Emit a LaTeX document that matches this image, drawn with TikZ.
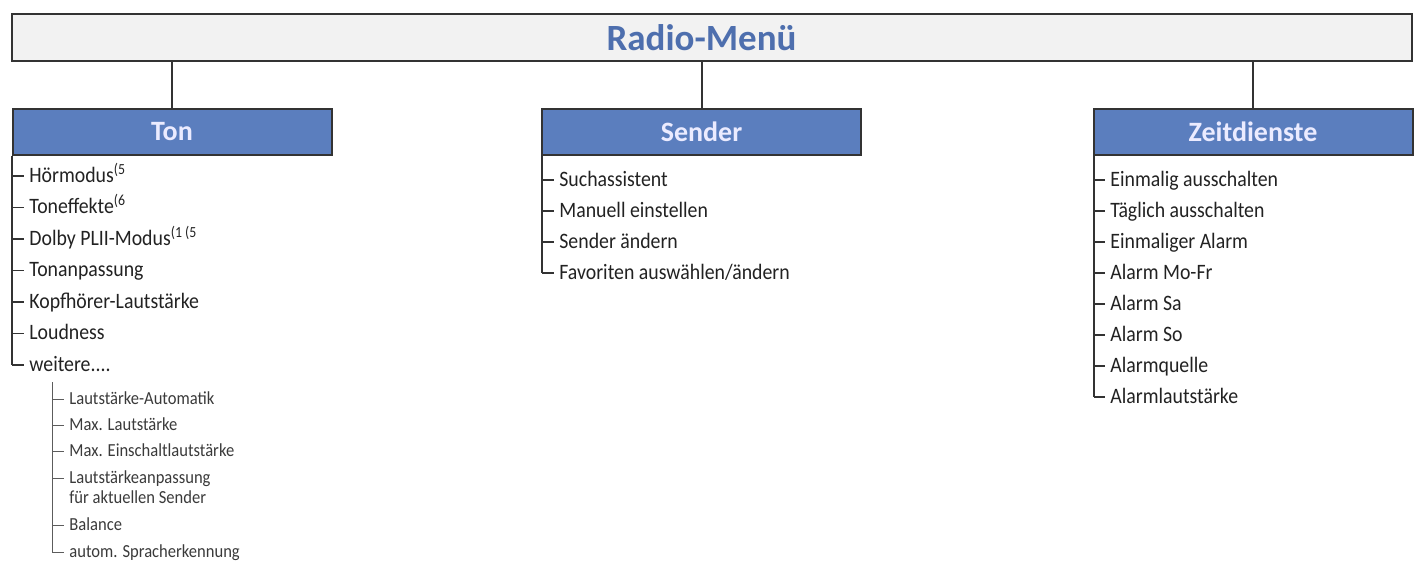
\documentclass[tikz,border=0pt]{standalone}
\usepackage{fontspec}
\setmainfont{Carlito}
\newfontfamily\itemfont[FakeStretch=0.9]{Carlito}
\usepackage{xcolor}
\definecolor{boxblue}{HTML}{5B7EBE}
\definecolor{menublue}{HTML}{4E6FAE}
\definecolor{framegray}{HTML}{333333}
\definecolor{menugray}{HTML}{F2F2F2}
\definecolor{txt}{HTML}{222222}
\definecolor{subtxt}{HTML}{3A3A3A}
\newcommand\tonmore{weitere....}
\tikzset{
  menubox/.style={draw=framegray, line width=1pt, fill=menugray, minimum width=700pt, minimum height=23.5pt, inner sep=0pt},
  groupbox/.style={draw=framegray, line width=1pt, fill=boxblue, minimum width=159.5pt, minimum height=23pt, inner sep=0pt,
    text=white!92!blue, font=\fontsize{14pt}{16pt}\bfseries\selectfont},
  link/.style={draw=framegray, line width=1pt},
  item/.style={anchor=base west, inner xsep=2.5pt, inner ysep=0pt, text=txt, font=\itemfont\fontsize{11pt}{13pt}\selectfont},
  subitem/.style={anchor=base west, inner xsep=2.5pt, inner ysep=0pt, text=subtxt, align=left, font=\itemfont\fontsize{9.2pt}{10pt}\selectfont},
  tree/.style={draw=framegray, line width=0.75pt},
  subtree/.style={draw=framegray!80, line width=0.5pt}
}
\begin{document}
\begin{tikzpicture}[x=0.5pt, y=-0.5pt]
  \useasboundingbox (0,0) rectangle (1418,568);
  % Kopf
  \node[menubox] (menu) at (712,37.5) {};
  \node[groupbox] (ton) at (172,132) {Ton};
  \node[groupbox] (sender) at (701.5,132) {Sender};
  \node[groupbox] (zeit) at (1253,132) {Zeitdienste};
  \node[text=menublue, font=\fontsize{18.5pt}{20pt}\bfseries\selectfont] (title) at (menu.center -| sender) {Radio-Menü};
  \foreach \g in {ton,sender,zeit}
    \draw[link] (\g.north) -- (\g.north |- menu.south);
  % Ton
  \foreach \t [count=\i] in {Hörmodus\textsuperscript{(5}, Toneffekte\textsuperscript{(6}, Dolby PLII-Modus\textsuperscript{(1 (5}, Tonanpassung, Kopfhörer-Lautstärke, Loudness, \tonmore}{
    \coordinate (t\i) at (12,{176+31.5*(\i-1)});
    \node[item] (ton\i) at ([shift={(12,6)}]t\i) {\t};
    \draw[tree] (t\i) -- (t\i -| ton\i.west);
  }
  \draw[tree] (t1 |- ton.south) -- (t7);
  % Unterpunkte von weitere
  \coordinate (subtop) at (52,382);
  \foreach \t/\y/\b [count=\i] in {Lautstärke-Automatik/399/5, Max. Lautstärke/425/5, Max. Einschaltlautstärke/451/5, {Lautstärkeanpassung\\für aktuellen Sender}/478/25, Balance/525/5, autom. Spracherkennung/552/5}{
    \coordinate (s\i) at (52,\y);
    \node[subitem] (sub\i) at ([shift={(12,\b)}]s\i) {\t};
    \draw[subtree] (s\i) -- (s\i -| sub\i.west);
  }
  \draw[subtree] (subtop) -- (s6);
  % Sender
  \foreach \t [count=\i] in {Suchassistent, Manuell einstellen, Sender ändern, Favoriten auswählen/ändern}{
    \coordinate (r\i) at (542,{180+31*(\i-1)});
    \node[item] (sender\i) at ([shift={(12,6)}]r\i) {\t};
    \draw[tree] (r\i) -- (r\i -| sender\i.west);
  }
  \draw[tree] (r1 |- sender.south) -- (r4);
  % Zeitdienste
  \foreach \t [count=\i] in {Einmalig ausschalten, Täglich ausschalten, Einmaliger Alarm, Alarm Mo-Fr, Alarm Sa, Alarm So, Alarmquelle, Alarmlautstärke}{
    \coordinate (z\i) at (1094,{180+31*(\i-1)});
    \node[item] (zeit\i) at ([shift={(11,6)}]z\i) {\t};
    \draw[tree] (z\i) -- (z\i -| zeit\i.west);
  }
  \draw[tree] (z1 |- zeit.south) -- (z8);
\end{tikzpicture}
\end{document}
